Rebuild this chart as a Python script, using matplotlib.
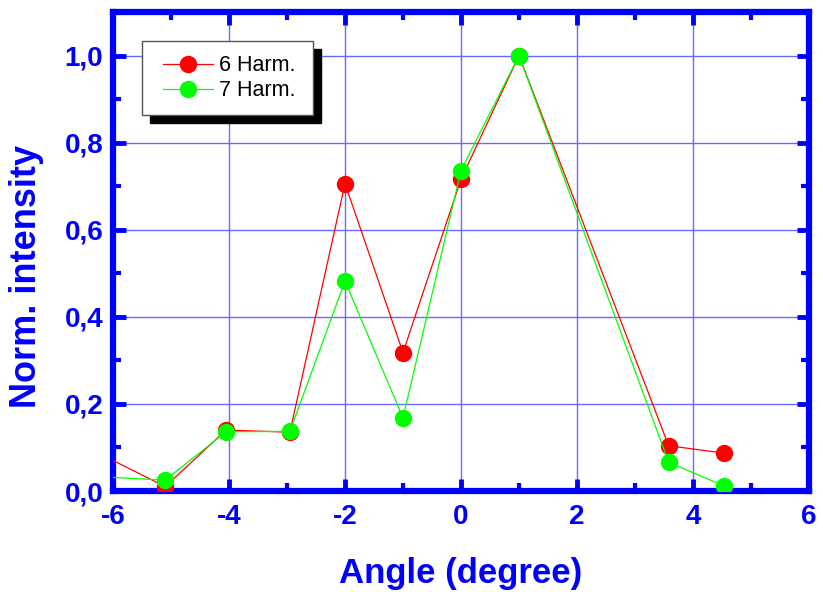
import matplotlib
matplotlib.use("Agg")
import matplotlib.pyplot as plt
from matplotlib.patches import Rectangle
from matplotlib.ticker import MultipleLocator, FuncFormatter

plt.rcParams['font.family'] = ['Liberation Sans', 'DejaVu Sans']
plt.rcParams['axes.unicode_minus'] = False

# Measured angles (degree) and normalised intensities
angle = [-7.0, -5.1, -4.05, -2.95, -2.0, -1.0, 0.0, 1.0, 3.58, 4.53]
harm6 = [0.137, 0.010, 0.140, 0.135, 0.706, 0.318, 0.716, 1.000, 0.104, 0.087]
harm7 = [0.038, 0.025, 0.136, 0.137, 0.482, 0.168, 0.736, 1.000, 0.066, 0.012]
series_names = ["6 Harm.", "7 Harm."]

BLUE = '#0000ff'

fig = plt.figure(figsize=(8.23, 5.92), dpi=100)
ax = fig.add_axes([113/823, 1 - 491/592, 696/823, 479/592])

l6, = ax.plot(angle, harm6, '-', color='#ff0000', lw=0.9, marker='o', ms=11.5,
              markerfacecolor='#ff0000', markeredgecolor='#ff0000', zorder=3)
l7, = ax.plot(angle, harm7, '-', color='#00ff00', lw=0.9, marker='o', ms=11.5,
              markerfacecolor='#00ff00', markeredgecolor='#00ff00', zorder=4)

ax.set_xlim(-6, 6)
ax.set_ylim(0, 1.1)
ax.xaxis.set_major_locator(MultipleLocator(2))
ax.xaxis.set_minor_locator(MultipleLocator(1))
ax.yaxis.set_major_locator(MultipleLocator(0.2))
ax.yaxis.set_minor_locator(MultipleLocator(0.1))
ax.yaxis.set_major_formatter(FuncFormatter(lambda v, p: f"{v:.1f}".replace('.', ',')))
ax.xaxis.set_major_formatter(FuncFormatter(lambda v, p: f"{v:.0f}"))

ax.grid(True, which='major', color='#6a6aff', lw=1.0, zorder=0)
for s in ax.spines.values():
    s.set_color(BLUE)
    s.set_linewidth(4.5)

ax.tick_params(which='both', direction='in', top=True, right=True,
               color=BLUE, labelcolor=BLUE)
ax.tick_params(which='major', length=9, width=3.5, labelsize=20)
ax.tick_params(axis='x', which='major', pad=9)
ax.tick_params(axis='y', which='major', pad=7)
ax.tick_params(which='minor', length=6, width=3)
for lab in ax.get_xticklabels() + ax.get_yticklabels():
    lab.set_fontweight('bold')

ax.set_xlabel("Angle (degree)", fontsize=25, fontweight='bold', color=BLUE, labelpad=20)
ax.set_ylabel("Norm. intensity", fontsize=26, fontweight='bold', color=BLUE)
ax.yaxis.set_label_coords(-0.099, 0.447)

# Legend box with a solid drop shadow
bx0, by0, bx1, by1 = 0.041, 0.784, 0.287, 0.939
dx, dy = 8/696, 8/479
ax.add_patch(Rectangle((bx0 + dx, by0 - dy), bx1 - bx0, by1 - by0, transform=ax.transAxes,
                       facecolor='black', edgecolor='black', zorder=6, clip_on=False))
ax.add_patch(Rectangle((bx0, by0), bx1 - bx0, by1 - by0, transform=ax.transAxes,
                       facecolor='white', edgecolor='#555555', lw=1.0, zorder=7, clip_on=False))
leg = ax.legend([l6, l7], series_names, loc='center',
                bbox_to_anchor=((bx0 + bx1) / 2 + 0.003, (by0 + by1) / 2),
                frameon=False, fontsize=15.5, handlelength=2.3, handletextpad=0.3,
                labelspacing=0.2, borderpad=0.2)
leg.set_zorder(8)

fig.savefig("out.png", dpi=100)
